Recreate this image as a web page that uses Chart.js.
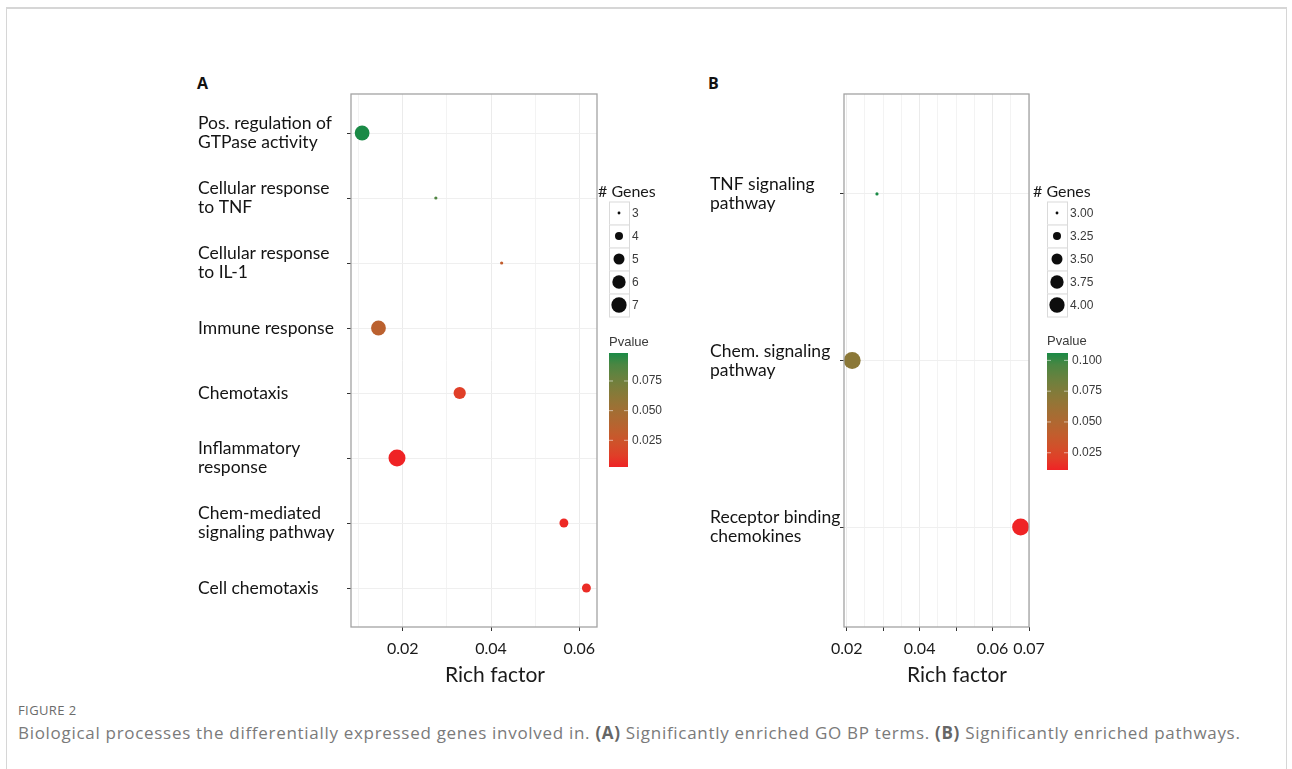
<!DOCTYPE html>
<html>
<head>
<meta charset="utf-8">
<title>Figure 2</title>
<script src="https://cdn.jsdelivr.net/npm/chart.js@4.4.1/dist/chart.umd.min.js"></script>
<style>
    body { margin: 0; width: 1292px; height: 769px; overflow: hidden; position: relative; background: #fff; font-family: 'Open Sans', sans-serif; }
    .frame { position: absolute; left: 6px; top: 7px; width: 1279px; height: 820px; border: 1px solid #d6d6d6; border-top-width: 2px; }
    .tag { position: absolute; font: bold 16px 'Open Sans', sans-serif; color: #111; }
    canvas { position: absolute; }
    .fig-label { position: absolute; left: 18px; top: 701px; font: 13px 'Open Sans', sans-serif; letter-spacing: 0.4px; color: #6b6b6b; }
    .fig-caption { position: absolute; left: 18px; top: 721px; font: 17px 'Open Sans', sans-serif; letter-spacing: 0.7px; color: #7a7a7a; white-space: nowrap; }
    .fig-caption b { color: #666; }
</style>
</head>
<body>
<div class="frame"></div>
<div class="tag" style="left:197px; top:72px;">A</div>
<div class="tag" style="left:708px; top:72px;">B</div>
<canvas id="chartA" width="490" height="640" style="left:190px; top:60px;"></canvas>
<canvas id="chartB" width="420" height="640" style="left:695px; top:60px;"></canvas>
<div class="fig-label">FIGURE 2</div>
<div class="fig-caption">Biological processes the differentially expressed genes involved in. <b>(A)</b> Significantly enriched GO BP terms. <b>(B)</b> Significantly enriched pathways.</div>

<script>
// Panel A: GO BP terms
const termsA = [
    ['Pos. regulation of', 'GTPase activity'],
    ['Cellular response', 'to TNF'],
    ['Cellular response', 'to IL-1'],
    'Immune response',
    'Chemotaxis',
    ['Inflammatory', 'response'],
    ['Chem-mediated', 'signaling pathway'],
    'Cell chemotaxis'
];
const richA = [0.0108, 0.0275, 0.0424, 0.0145, 0.0329, 0.0187, 0.0565, 0.0616];
const genesA = [6, 3, 3, 6, 5, 7, 4, 4];
const pvalA = [0.0986, 0.087, 0.031, 0.035, 0.012, 0.0025, 0.004, 0.005];
const geneBreaksA = [3, 4, 5, 6, 7];
const pBreaksA = [0.025, 0.050, 0.075];
const xGridA = [0.01, 0.02, 0.03, 0.04, 0.05, 0.06];
const xTicksA = [0.02, 0.04, 0.06];

// Panel B: pathways
const termsB = [
    ['TNF signaling', 'pathway'],
    ['Chem. signaling', 'pathway'],
    ['Receptor binding', 'chemokines']
];
const richB = [0.0283, 0.0215, 0.0677];
const genesB = [3, 4, 4];
const pvalB = [0.106, 0.070, 0.011];
const geneBreaksB = [3.00, 3.25, 3.50, 3.75, 4.00];
const pBreaksB = [0.025, 0.050, 0.075, 0.100];
const xGridB = [0.02, 0.025, 0.03, 0.035, 0.04, 0.045, 0.05, 0.055, 0.06, 0.065, 0.07];
const xMarksB = [0.02, 0.03, 0.04, 0.05, 0.06, 0.07];
const xTicksB = [0.02, 0.04, 0.06, 0.07];

const LOW_COLOR = [239, 35, 37];
const HIGH_COLOR = [26, 138, 70];
const R_MIN = 1.6;
const R_MAX = 8.5;

Chart.defaults.font.family = 'Lato';
Chart.defaults.color = '#1a1a1a';

const same = (a, b) => Math.abs(a - b) < 1e-9;

/* sRGB <-> Lab so the red→green scale passes through brown like ggplot */
function toLinear(c) { c /= 255; return c <= 0.04045 ? c / 12.92 : Math.pow((c + 0.055) / 1.055, 2.4); }
function fromLinear(c) { c = c <= 0.0031308 ? c * 12.92 : 1.055 * Math.pow(c, 1 / 2.4) - 0.055; return Math.round(Math.min(1, Math.max(0, c)) * 255); }
function rgbToLab(rgb) {
    const [r, g, b] = rgb.map(toLinear);
    const x = (r * 0.4124 + g * 0.3576 + b * 0.1805) / 0.95047;
    const y = (r * 0.2126 + g * 0.7152 + b * 0.0722);
    const z = (r * 0.0193 + g * 0.1192 + b * 0.9505) / 1.08883;
    const f = t => t > 0.008856 ? Math.cbrt(t) : 7.787 * t + 16 / 116;
    return [116 * f(y) - 16, 500 * (f(x) - f(y)), 200 * (f(y) - f(z))];
}
function labToRgb(lab) {
    const fy = (lab[0] + 16) / 116, fx = fy + lab[1] / 500, fz = fy - lab[2] / 200;
    const inv = t => t * t * t > 0.008856 ? t * t * t : (t - 16 / 116) / 7.787;
    const x = inv(fx) * 0.95047, y = inv(fy), z = inv(fz) * 1.08883;
    const r = x * 3.2406 + y * -1.5372 + z * -0.4986;
    const g = x * -0.9689 + y * 1.8758 + z * 0.0415;
    const b = x * 0.0557 + y * -0.2040 + z * 1.0570;
    return [fromLinear(r), fromLinear(g), fromLinear(b)];
}
const lowLab = rgbToLab(LOW_COLOR);
const highLab = rgbToLab(HIGH_COLOR);
function colorAt(t) {
    const lab = lowLab.map((v, i) => v + (highLab[i] - v) * t);
    const c = labToRgb(lab);
    return 'rgb(' + c.join(',') + ')';
}

function radiusFor(g, gMin, gMax) {
    const t = (g - gMin) / (gMax - gMin);
    return Math.sqrt(R_MIN * R_MIN + (R_MAX * R_MAX - R_MIN * R_MIN) * t);
}

/**
 * Dibuja el marco del panel, el título del eje x y las dos leyendas
 */
function decorPlugin(p) {
    return {
        id: 'decor',
        afterDatasetsDraw(chart) {
            const a = chart.chartArea;
            const ctx = chart.ctx;
            ctx.save();
            ctx.strokeStyle = '#a3a3a3';
            ctx.lineWidth = 1.3;
            ctx.strokeRect(a.left, a.top, a.right - a.left, a.bottom - a.top);
            ctx.restore();
        },
        afterDraw(chart) {
            const ctx = chart.ctx;
            const L = p.legend;
            ctx.save();

            // x axis title
            ctx.fillStyle = '#1a1a1a';
            ctx.font = '21px Lato';
            ctx.textAlign = 'center';
            ctx.textBaseline = 'middle';
            ctx.fillText('Rich factor', p.titleX, p.titleY);

            // size legend
            ctx.font = '16px Lato';
            ctx.textAlign = 'left';
            ctx.fillText('# Genes', L.x, L.titleY);
            const gMin = Math.min(...p.genes), gMax = Math.max(...p.genes);
            p.geneBreaks.forEach((g, i) => {
                const cy = L.rowY + i * L.rowStep;
                ctx.fillStyle = '#fff';
                ctx.strokeStyle = '#dadada';
                ctx.lineWidth = 1;
                ctx.fillRect(L.keyX, cy - L.rowStep / 2, L.keyW, L.rowStep);
                ctx.strokeRect(L.keyX + 0.5, cy - L.rowStep / 2 + 0.5, L.keyW, L.rowStep);
                ctx.fillStyle = '#0d0d0d';
                ctx.beginPath();
                ctx.arc(L.keyX + L.keyW / 2, cy, radiusFor(g, gMin, gMax) * 0.9, 0, Math.PI * 2);
                ctx.fill();
                ctx.fillStyle = '#3a3a3a';
                ctx.font = '12px "Liberation Sans"';
                ctx.textBaseline = 'middle';
                ctx.fillText(g.toFixed(p.geneDigits), L.keyX + L.keyW + 3, cy + 1);
            });

            // colour bar
            ctx.fillStyle = '#3a3a3a';
            ctx.font = '13px "Liberation Sans"';
            ctx.fillText('Pvalue', L.keyX, L.pTitleY);
            const pMin = Math.min(...p.pvals), pMax = Math.max(...p.pvals);
            const grad = ctx.createLinearGradient(0, L.barBottom, 0, L.barTop);
            for (let s = 0; s <= 10; s++) grad.addColorStop(s / 10, colorAt(s / 10));
            ctx.fillStyle = grad;
            ctx.fillRect(L.keyX, L.barTop, L.barW, L.barBottom - L.barTop);
            ctx.font = '12px "Liberation Sans"';
            p.pBreaks.forEach(v => {
                const y = L.barBottom - (v - pMin) / (pMax - pMin) * (L.barBottom - L.barTop);
                ctx.strokeStyle = 'rgba(255,255,255,0.55)';
                ctx.lineWidth = 1;
                ctx.beginPath();
                ctx.moveTo(L.keyX, y); ctx.lineTo(L.keyX + 4, y);
                ctx.moveTo(L.keyX + L.barW - 4, y); ctx.lineTo(L.keyX + L.barW, y);
                ctx.stroke();
                ctx.fillStyle = '#3a3a3a';
                ctx.fillText(v.toFixed(3), L.keyX + L.barW + 4, y);
            });
            ctx.restore();
        }
    };
}

function buildPanel(canvasId, p) {
    const gMin = Math.min(...p.genes), gMax = Math.max(...p.genes);
    const pMin = Math.min(...p.pvals), pMax = Math.max(...p.pvals);
    const n = p.terms.length;

    return new Chart(document.getElementById(canvasId).getContext('2d'), {
        type: 'scatter',
        data: {
            datasets: [{
                data: p.rich.map((x, i) => ({ x: x, y: i + 1 })),
                pointRadius: p.genes.map(g => radiusFor(g, gMin, gMax)),
                backgroundColor: p.pvals.map(v => colorAt((v - pMin) / (pMax - pMin))),
                borderWidth: 0,
                clip: false
            }]
        },
        options: {
            responsive: false,
            devicePixelRatio: 1,
            animation: false,
            events: [],
            layout: { padding: p.padding },
            plugins: { legend: { display: false }, tooltip: { enabled: false } },
            scales: {
                x: {
                    type: 'linear',
                    min: p.xMin,
                    max: p.xMax,
                    afterBuildTicks: s => { s.ticks = p.xGrid.map(v => ({ value: v })); },
                    afterFit: s => { s.height = 40; },
                    border: { display: false },
                    grid: {
                        color: ctx => ctx.tick && p.xTicks.some(v => same(v, ctx.tick.value)) ? '#ebebeb' : '#f3f3f3',
                        tickLength: 4,
                        tickColor: ctx => ctx.tick && p.xMarks.some(v => same(v, ctx.tick.value)) ? '#333' : 'rgba(0,0,0,0)'
                    },
                    ticks: {
                        autoSkip: false,
                        maxRotation: 0,
                        padding: 8,
                        color: '#1a1a1a',
                        font: { size: 16 },
                        callback: v => p.xTicks.some(t => same(t, v)) ? v.toFixed(2) : ''
                    }
                },
                y: {
                    type: 'linear',
                    reverse: true,
                    min: 0.4,
                    max: n + 0.6,
                    afterBuildTicks: s => { s.ticks = p.terms.map((t, i) => ({ value: i + 1 })); },
                    afterFit: s => { s.width = p.yWidth; },
                    border: { display: false },
                    grid: { color: '#efefef', tickLength: 4, tickColor: '#333' },
                    ticks: {
                        autoSkip: false,
                        crossAlign: 'far',
                        color: '#141414',
                        font: { size: 17.5, lineHeight: 1.08 },
                        callback: v => p.terms[v - 1]
                    }
                }
            }
        },
        plugins: [decorPlugin(p)]
    });
}

buildPanel('chartA', {
    terms: termsA, rich: richA, genes: genesA, pvals: pvalA,
    geneBreaks: geneBreaksA, geneDigits: 0, pBreaks: pBreaksA,
    xMin: 0.00828, xMax: 0.064, xGrid: xGridA, xMarks: xTicksA, xTicks: xTicksA,
    padding: { left: 8, top: 34, right: 83, bottom: 33 },
    yWidth: 153,
    titleX: 305, titleY: 615,
    legend: { x: 408, titleY: 132, keyX: 419, keyW: 20, rowY: 153, rowStep: 23, pTitleY: 282, barW: 19, barTop: 293, barBottom: 407 }
});

buildPanel('chartB', {
    terms: termsB, rich: richB, genes: genesB, pvals: pvalB,
    geneBreaks: geneBreaksB, geneDigits: 2, pBreaks: pBreaksB,
    xMin: 0.01926, xMax: 0.07, xGrid: xGridB, xMarks: xMarksB, xTicks: xTicksB,
    padding: { left: 15, top: 34, right: 86, bottom: 33 },
    yWidth: 134,
    titleX: 262, titleY: 615,
    legend: { x: 338, titleY: 132, keyX: 352, keyW: 20, rowY: 153, rowStep: 23, pTitleY: 281, barW: 21, barTop: 293, barBottom: 410 }
});
</script>
</body>
</html>
